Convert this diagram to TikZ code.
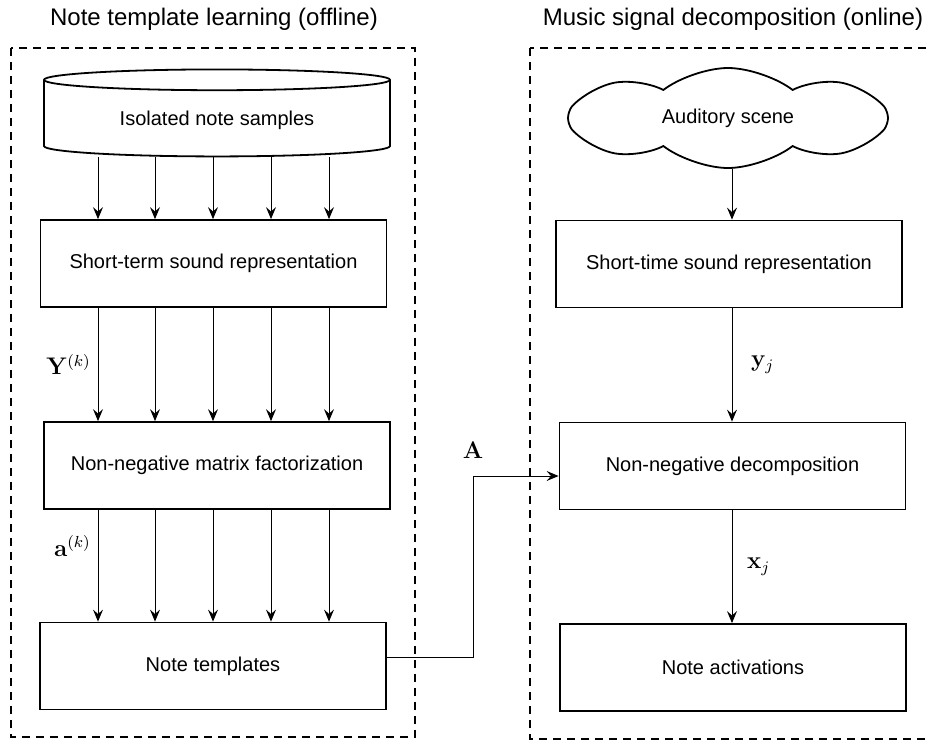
\documentclass[tikz,border=0pt]{standalone}
\usepackage[no-math]{fontspec}
\setmainfont{Liberation Sans}
\usetikzlibrary{arrows.meta,shapes.geometric,shapes.symbols}

\begin{document}
\begin{tikzpicture}[x=0.5pt,y=-0.5pt,font=\fontsize{10}{12}\selectfont,
	arr/.style={-{Stealth[length=6pt,width=5pt,inset=2.2pt]},line width=0.5pt},
	block/.style={draw,line width=0.9pt,minimum width=173pt,minimum height=43.5pt},
	store/.style={cylinder,shape border rotate=90,draw,line width=0.9pt,aspect=0.1,
		minimum width=173pt,minimum height=43.5pt},
	scene/.style={cloud,cloud puffs=8,cloud puff arc=75,cloud ignores aspect,draw,
		line width=0.9pt,minimum width=160pt,minimum height=50pt},
	frame/.style={draw,line width=0.9pt,dash pattern=on 4pt off 3pt},
	title/.style={font=\fontsize{12}{14}\selectfont},
	lbl/.style={font=\fontsize{12}{14}\selectfont}]
	\useasboundingbox (0,0) rectangle (928,740);

	% dashed frames
	\draw[frame] (11,48) rectangle (415,737);
	\draw[frame] (530,48) rectangle (940,739);
	\node[title] (offline) at (214,19) {Note template learning (offline)};
	\node[title] (online) at (733,19) {Music signal decomposition (online)};

	% learning side
	\node[store] (samples) at (217,120) {Isolated note samples};
	\node[block] (rep) at (213.5,263.5) {Short-term sound representation};
	\node[block] (nmf) at (217,465.5) {Non-negative matrix factorization};
	\node[block] (templ) at (213,666) {Note templates};

	% decomposition side
	\node[scene] (audio) at (728,118) {Auditory scene};
	\node[block] (srep) at (729,264) {Short-time sound representation};
	\node[block] (nnd) at (732.5,466) {Non-negative decomposition};
	\node[block] (act) at (733,667.5) {Note activations};

	\foreach \x [count=\i] in {98,155,213,271,329} {
		\draw[arr] (samples.south -| \x,0) -- (rep.north -| \x,0);
		\ifnum\i=1
			\draw[arr] (rep.south -| \x,0) -- node[lbl,left] {$\mathbf{Y}^{(k)}$} (nmf.north -| \x,0);
			\draw[arr] (nmf.south -| \x,0) -- node[lbl,pos=0.32,left] {$\mathbf{a}^{(k)}$} (templ.north -| \x,0);
		\else
			\draw[arr] (rep.south -| \x,0) -- (nmf.north -| \x,0);
			\draw[arr] (nmf.south -| \x,0) -- (templ.north -| \x,0);
		\fi
	}

	\draw[arr] (audio.south -| 732,0) -- (srep.north -| 732,0);
	\draw[arr] (srep.south -| 732,0) -- node[lbl,right=6pt] {$\mathbf{y}_j$} (nnd.north -| 732,0);
	\draw[arr] (nnd.south -| 732,0) -- node[lbl,right=4pt] {$\mathbf{x}_j$} (act.north -| 732,0);

	\coordinate (knee) at (473,476);
	\draw[arr] ([yshift=4.5pt]templ.east) -| (knee) node[lbl,above=5pt] {$\mathbf{A}$}
		-- ([yshift=-5pt]nnd.west);
\end{tikzpicture}
\end{document}
